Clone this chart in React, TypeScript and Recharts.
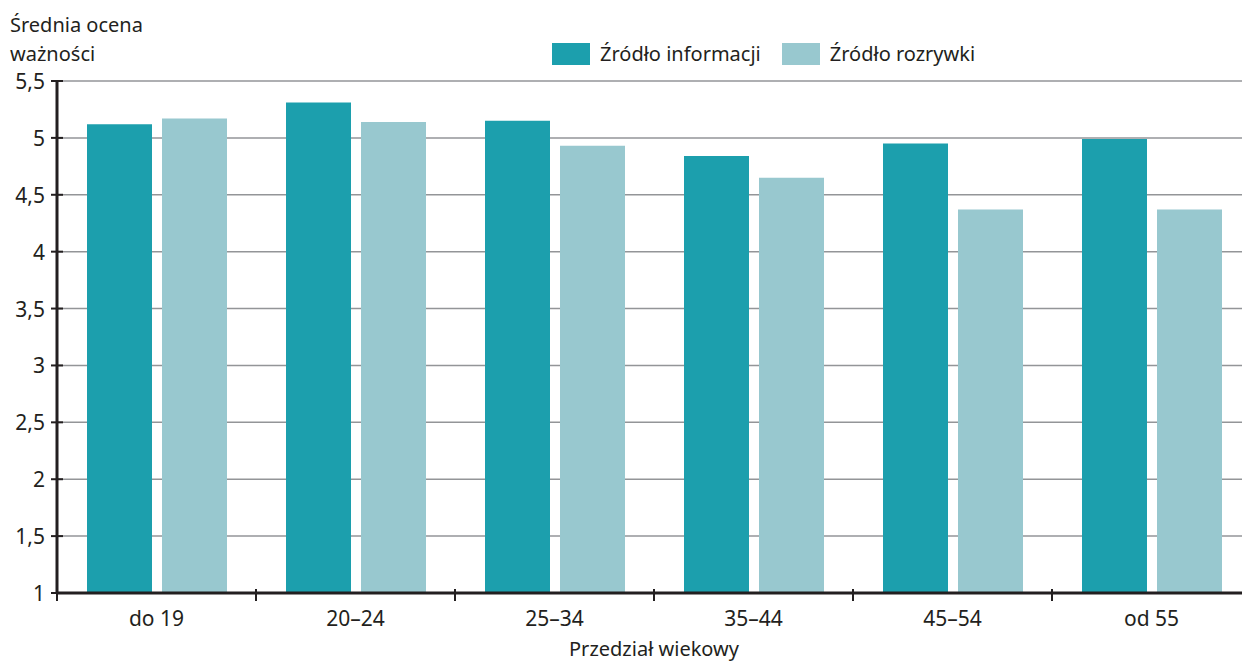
import React from "react";
import { BarChart, Bar, XAxis, YAxis, CartesianGrid } from "recharts";

const categories = ["do 19", "20–24", "25–34", "35–44", "45–54", "od 55"];
const infoValues = [5.12, 5.31, 5.15, 4.84, 4.95, 4.99];
const funValues = [5.17, 5.14, 4.93, 4.65, 4.37, 4.37];
const yTicks = [1, 1.5, 2, 2.5, 3, 3.5, 4, 4.5, 5, 5.5];

const series = [
  { key: "info", name: "Źródło informacji", color: "#1c9fad" },
  { key: "fun", name: "Źródło rozrywki", color: "#98c8cf" },
];

const data = categories.map((cat, i) => ({
  cat,
  info: infoValues[i],
  fun: funValues[i],
}));

const FONT = "'Noto Sans', sans-serif";
const TEXT = "#231f20";
const CHART_W = 1251;
const CHART_H = 663;
const Y_AXIS_W = 57;
const X_AXIS_H = 70;
const TOP = 81;
const AXIS_Y = CHART_H - X_AXIS_H;
const BAND = (CHART_W - Y_AXIS_W) / categories.length;

const fmt = (v: number) => String(v).replace(".", ",");

function YTick(props: any) {
  const { y, payload } = props;
  return (
    <g>
      <line x1={Y_AXIS_W - 6} x2={Y_AXIS_W + 6} y1={y} y2={y} stroke={TEXT} strokeWidth={2} />
      <text
        x={Y_AXIS_W - 12}
        y={y}
        textAnchor="end"
        dominantBaseline="central"
        fill={TEXT}
        fontSize={21}
        fontFamily={FONT}
      >
        {fmt(payload.value)}
      </text>
    </g>
  );
}

function XTick(props: any) {
  const { x, payload, index } = props;
  return (
    <g>
      {index === 0 && (
        <line x1={x - BAND / 2} x2={x - BAND / 2} y1={AXIS_Y} y2={AXIS_Y + 8} stroke={TEXT} strokeWidth={2} />
      )}
      <line x1={x + BAND / 2} x2={x + BAND / 2} y1={AXIS_Y - 4} y2={AXIS_Y + 8} stroke={TEXT} strokeWidth={2} />
      <text x={x} y={AXIS_Y + 33} textAnchor="middle" fill={TEXT} fontSize={21} fontFamily={FONT}>
        {payload.value}
      </text>
    </g>
  );
}

export default function App() {
  return (
    <div
      style={{
        position: "absolute",
        left: 0,
        top: 0,
        width: 1242,
        height: 663,
        overflow: "hidden",
        background: "#fff",
        fontFamily: FONT,
        color: TEXT,
      }}
    >
      <div style={{ position: "absolute", left: 10, top: 10, fontSize: 20, lineHeight: "29px" }}>
        Średnia ocena
        <br />
        ważności
      </div>

      {/* legend */}
      <div style={{ position: "absolute", left: 552, top: 40, display: "flex", alignItems: "center", fontSize: 20 }}>
        {series.map((s) => (
          <div key={s.key} style={{ display: "flex", alignItems: "center", marginRight: 21 }}>
            <span style={{ width: 38, height: 22, background: s.color, display: "inline-block", marginRight: 10 }} />
            <span>{s.name}</span>
          </div>
        ))}
      </div>

      <BarChart
        width={CHART_W}
        height={CHART_H}
        data={data}
        margin={{ top: TOP, right: 0, left: 0, bottom: 0 }}
        barCategoryGap={30}
        barGap={10}
      >
        <CartesianGrid vertical={false} stroke="#939598" strokeWidth={1.5} />
        <XAxis
          dataKey="cat"
          height={X_AXIS_H}
          axisLine={{ stroke: TEXT, strokeWidth: 3 }}
          tickLine={false}
          tick={<XTick />}
          interval={0}
          label={{
            value: "Przedział wiekowy",
            position: "insideBottom",
            offset: 7,
            fill: TEXT,
            fontSize: 20,
            fontFamily: FONT,
          }}
        />
        <YAxis
          width={Y_AXIS_W}
          domain={[1, 5.5]}
          ticks={yTicks}
          interval={0}
          axisLine={{ stroke: TEXT, strokeWidth: 3 }}
          tickLine={false}
          tick={<YTick />}
        />
        {series.map((s) => (
          <Bar key={s.key} dataKey={s.key} name={s.name} fill={s.color} isAnimationActive={false} />
        ))}
      </BarChart>
    </div>
  );
}
